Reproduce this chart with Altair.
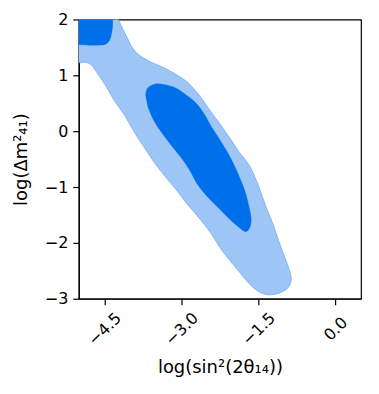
import altair as alt
import pandas as pd

# Outer (light) confidence region, data coordinates
OUTER_X = [-5.10, -4.30, -4.23, -4.15, -4.05, -3.96, -3.82, -3.58, -3.33, -3.08, -2.90, -2.75,
           -2.61, -2.42, -2.22, -2.03, -1.87, -1.68, -1.52, -1.42, -1.33, -1.23, -1.09,
           -0.97, -0.90, -0.86, -0.92, -1.07, -1.29, -1.48, -1.68, -1.87, -2.07, -2.26,
           -2.40, -2.59, -2.75, -2.90, -3.10, -3.29, -3.49, -3.66, -3.82, -3.96, -4.11,
           -4.31, -4.46, -4.64, -4.75, -4.85, -5.10]
OUTER_Y = [2.10, 2.10, 2.00, 1.84, 1.66, 1.50, 1.36, 1.23, 1.13, 1.00, 0.89, 0.75,
           0.59, 0.34, 0.09, -0.16, -0.38, -0.61, -0.93, -1.18, -1.41, -1.63, -2.00,
           -2.30, -2.48, -2.66, -2.80, -2.89, -2.93, -2.88, -2.73, -2.52, -2.30, -2.07,
           -1.86, -1.63, -1.45, -1.29, -1.05, -0.84, -0.61, -0.38, -0.16, 0.05, 0.29,
           0.55, 0.79, 1.04, 1.18, 1.23, 1.21]

# Inner (dark) main region
INNER_X = [-3.70, -3.66, -3.53, -3.37, -3.10, -2.88, -2.71, -2.55, -2.42, -2.26, -2.07,
           -1.91, -1.77, -1.68, -1.64, -1.68, -1.75, -1.87, -2.07, -2.26, -2.49, -2.69,
           -2.84, -3.00, -3.20, -3.39, -3.55, -3.66]
INNER_Y = [0.64, 0.77, 0.84, 0.84, 0.77, 0.63, 0.50, 0.30, 0.09, -0.14, -0.43,
           -0.73, -1.05, -1.36, -1.59, -1.75, -1.80, -1.73, -1.57, -1.39, -1.18, -0.95,
           -0.70, -0.48, -0.25, -0.02, 0.21, 0.45]

# Inner (dark) region at the top-left corner
TOP_X = [-5.10, -4.34, -4.34, -4.34, -4.36, -4.40, -4.48, -4.60, -4.79, -5.10]
TOP_Y = [2.10, 2.10, 2.00, 1.89, 1.75, 1.63, 1.555, 1.54, 1.54, 1.55]

X_TICKS = [-4.5, -3.0, -1.5, 0.0]
Y_TICKS = [-3, -2, -1, 0, 1, 2]

LIGHT = "#9dc6f6"
LIGHT_EDGE = "#72aaf0"
DARK = "#0070ea"

def frame(xs, ys, name):
    return pd.DataFrame({"x": xs, "y": ys, "i": list(range(len(xs))), "region": name})

outer_df = frame(OUTER_X, OUTER_Y, "outer")
dark_df = pd.concat([frame(INNER_X, INNER_Y, "inner"), frame(TOP_X, TOP_Y, "top")])

xscale = alt.Scale(domain=[-5, 0.5], nice=False, zero=False)
yscale = alt.Scale(domain=[-3, 2], nice=False, zero=False)

font = "DejaVu Sans"

xaxis = alt.Axis(
    values=X_TICKS,
    labelExpr="replace(format(datum.value, '.1f'), '-', '\u2212')",
    title="log(sin\u00b2(2\u03b8\u2081\u2084))",
    labelAngle=-45, labelAlign="center", labelBaseline="middle", labelPadding=24,
    labelFont=font, labelFontSize=16, labelColor="black", labelFlush=False,
    tickSize=6, tickWidth=1.2, tickColor="black",
    domainColor="black", domainWidth=1.2, grid=False,
    titleFont=font, titleFontSize=18, titleFontWeight="normal", titleColor="black",
    titleX=141.5, titleY=74, titleAlign="center", titleBaseline="alphabetic",
)
yaxis = alt.Axis(
    values=Y_TICKS,
    labelExpr="replace(format(datum.value, 'd'), '-', '\u2212')",
    title="log(\u0394m\u00b2\u2084\u2081)",
    labelPadding=5, labelFont=font, labelFontSize=16, labelColor="black", labelFlush=False,
    tickSize=6, tickWidth=1.2, tickColor="black",
    domainColor="black", domainWidth=1.2, grid=False,
    titleFont=font, titleFontSize=18, titleFontWeight="normal", titleColor="black",
    titleX=-52, titleY=140, titleAlign="center", titleBaseline="alphabetic", titleAngle=-90,
)

outer = alt.Chart(outer_df).mark_line(
    fill=LIGHT, stroke=LIGHT_EDGE, strokeWidth=0.8, interpolate="catmull-rom", clip=True
).encode(
    x=alt.X("x:Q", scale=xscale, axis=xaxis),
    y=alt.Y("y:Q", scale=yscale, axis=yaxis),
    order=alt.Order("i:Q"),
)

dark = alt.Chart(dark_df).mark_line(
    fill=DARK, stroke=DARK, strokeWidth=0.3, interpolate="catmull-rom", clip=True
).encode(
    x=alt.X("x:Q", scale=xscale),
    y=alt.Y("y:Q", scale=yscale),
    detail="region:N",
    order=alt.Order("i:Q"),
)

chart = alt.layer(outer, dark).properties(
    width=283, height=280,
    autosize="none",
    padding={"left": 71, "top": 11, "right": 10, "bottom": 80},
).configure_view(stroke="black", strokeWidth=1.2)

chart.save("out.html", embed_options={"renderer": "svg", "actions": False})
